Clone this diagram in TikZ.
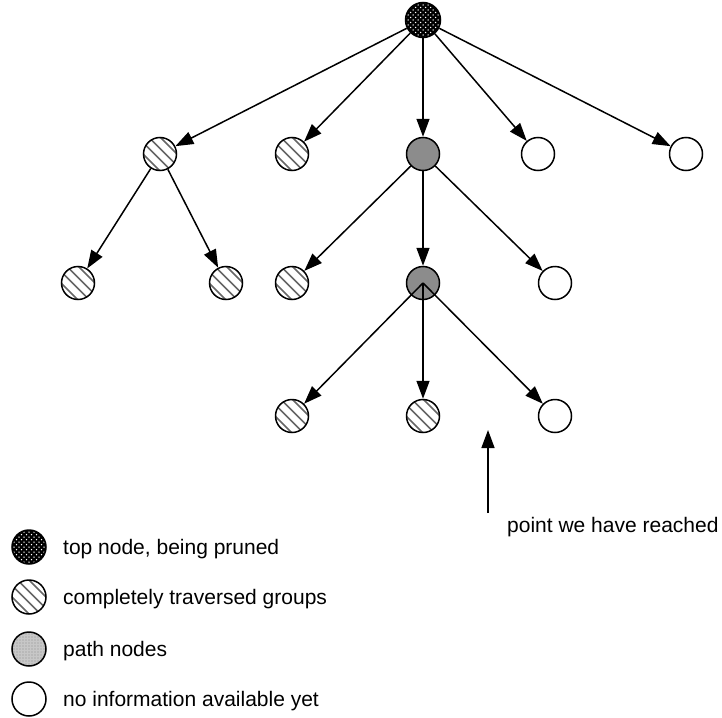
\documentclass[tikz,border=0pt]{standalone}
\usepackage{fontspec}
\setmainfont{Liberation Sans}
\usetikzlibrary{arrows.meta}
\begin{document}
\begin{tikzpicture}[x=1pt,y=-1pt,
  nd/.style={circle, draw, line width=1.5pt, minimum size=33pt, inner sep=0pt},
  emptynode/.style={nd},
  hatchnode/.style={nd, path picture={
    \foreach \d in {-8.5,-2.8,2.8,8.5}{
      \draw[black!60, line width=1.6pt] ([shift={(\d pt-20pt,\d pt+20pt)}]path picture bounding box.center) -- ++(40pt,-40pt);}}},
  pathnode/.style={nd, fill=black!45},
  legpathnode/.style={nd, fill=black!22, path picture={
    \foreach \i in {-6,...,6}{\foreach \j in {-6,...,6}{
      \fill[black!45] ([shift={(\i*3pt,\j*3pt)}]path picture bounding box.center) circle (0.6pt);}}}},
  topnode/.style={nd, fill=black, path picture={
    \foreach \i in {-4,...,4}{\foreach \j in {-4,...,4}{
      \fill[white] ([shift={(\i*5pt,\j*5pt)}]path picture bounding box.center) circle (0.75pt);
      \fill[white] ([shift={(\i*5pt+2.5pt,\j*5pt+2.5pt)}]path picture bounding box.center) circle (0.75pt);}}}},
  edge/.style={-{Triangle[length=18pt,width=13pt]}, line width=1.5pt},
  txt/.style={anchor=base west, inner sep=0pt, font=\fontsize{21}{25}\selectfont},
]
\useasboundingbox (0,0) rectangle (722,717);

% tree nodes
\node[topnode, minimum size=35pt] (top) at (423,20) {};
\node[hatchnode] (a1) at (160,154) {};
\node[hatchnode] (a2) at (292,154) {};
\node[pathnode]  (a3) at (423,154) {};
\node[emptynode] (a4) at (538,154) {};
\node[emptynode] (a5) at (686,154) {};
\node[hatchnode] (b1) at (78,283) {};
\node[hatchnode] (b2) at (226,283) {};
\node[hatchnode] (b3) at (292,283) {};
\node[pathnode]  (b4) at (423,283) {};
\node[emptynode] (b5) at (555,283) {};
\node[hatchnode] (c1) at (292,416) {};
\node[hatchnode] (c2) at (423,416) {};
\node[emptynode] (c3) at (555,416) {};

% edges
\foreach \t in {a1,a2,a3,a4,a5} \draw[edge] (top) -- (\t);
\foreach \t in {b1,b2} \draw[edge] (a1) -- (\t);
\foreach \t in {b3,b4,b5} \draw[edge] (a3) -- (\t);
\foreach \t in {c1,c2,c3} \draw[edge] (b4.center) -- (\t);

% pointer
\coordinate (p1) at (488,513);
\coordinate (p2) at (488,430);
\draw[edge] (p1) -- (p2);
\node[txt] (reach) at (507,532) {point we have reached};

% legend
\node[topnode, minimum size=34pt] (l1) at (29,547) {};
\node[hatchnode, minimum size=34pt] (l2) at (29,597) {};
\node[legpathnode, minimum size=34pt] (l3) at (29,649) {};
\node[emptynode, minimum size=34pt] (l4) at (29,699) {};
\node[txt] (t1) at (63,554) {top node, being pruned};
\node[txt] (t2) at (63,604) {completely traversed groups};
\node[txt] (t3) at (63,656) {path nodes};
\node[txt] (t4) at (63,706) {no information available yet};
\end{tikzpicture}
\end{document}
